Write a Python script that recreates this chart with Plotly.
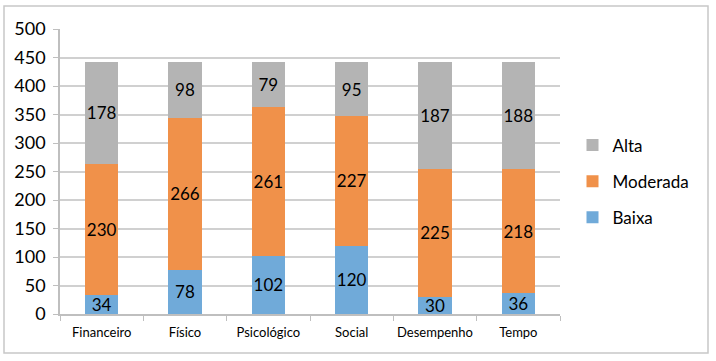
import plotly.graph_objects as go

categories = ["Financeiro", "Físico", "Psicológico", "Social", "Desempenho", "Tempo"]
baixa = [34, 78, 102, 120, 30, 36]
moderada = [230, 266, 261, 227, 225, 218]
alta = [178, 98, 79, 95, 187, 188]
y_ticks = [0, 50, 100, 150, 200, 250, 300, 350, 400, 450, 500]

FONT = "Lato, 'Open Sans', sans-serif"

fig = go.Figure()
for name, vals, color, rank in [("Baixa", baixa, "#70AAD9", 3),
                                ("Moderada", moderada, "#F0914A", 2),
                                ("Alta", alta, "#B4B4B4", 1)]:
    fig.add_trace(go.Bar(
        name=name, x=categories, y=vals, marker_color=color,
        marker_line_width=0, width=0.4, legendgroup=name, legendrank=rank,
        text=vals, textposition="inside", insidetextanchor="middle",
        constraintext="none", textangle=0,
        textfont=dict(color="black", size=17, family=FONT),
    ))

L, R, T, B = 60, 156, 29, 47
W, H = 716, 361
pw, ph = W - L - R, H - T - B

fig.update_layout(
    barmode="stack",
    width=W, height=H,
    margin=dict(l=L, r=R, t=T, b=B, autoexpand=False),
    plot_bgcolor="white", paper_bgcolor="white",
    font=dict(family=FONT, color="black"),
    legend=dict(traceorder="grouped", x=1.025, y=0.465, yanchor="middle",
                xanchor="left", font=dict(size=17), itemwidth=30,
                tracegroupgap=11),
    showlegend=True,
    xaxis=dict(showline=True, linecolor="#BFBFBF", linewidth=1.5,
               ticks="outside", tickson="boundaries", ticklen=5,
               tickcolor="#BFBFBF", tickfont=dict(size=13), tickangle=0,
               ticklabelstandoff=6, automargin=False),
    yaxis=dict(range=[0, 500], tickvals=y_ticks, showgrid=True,
               gridcolor="#D0D0D0", gridwidth=2, showline=True,
               linecolor="#BFBFBF", linewidth=1.5, ticks="outside",
               ticklen=5, tickcolor="#BFBFBF", tickfont=dict(size=18),
               ticklabelstandoff=4, zeroline=False, automargin=False),
    shapes=[dict(type="rect", xref="paper", yref="paper",
                 x0=(4 - L) / pw, x1=(708 - L) / pw,
                 y0=-(353 - (H - B)) / ph, y1=1 + (T - 6) / ph,
                 line=dict(color="#C8C8C8", width=1.5), layer="below")],
)

fig.write_html("out.html", config={"displayModeBar": False},
               post_script="document.body.style.margin='0';document.body.style.overflow='hidden';")
